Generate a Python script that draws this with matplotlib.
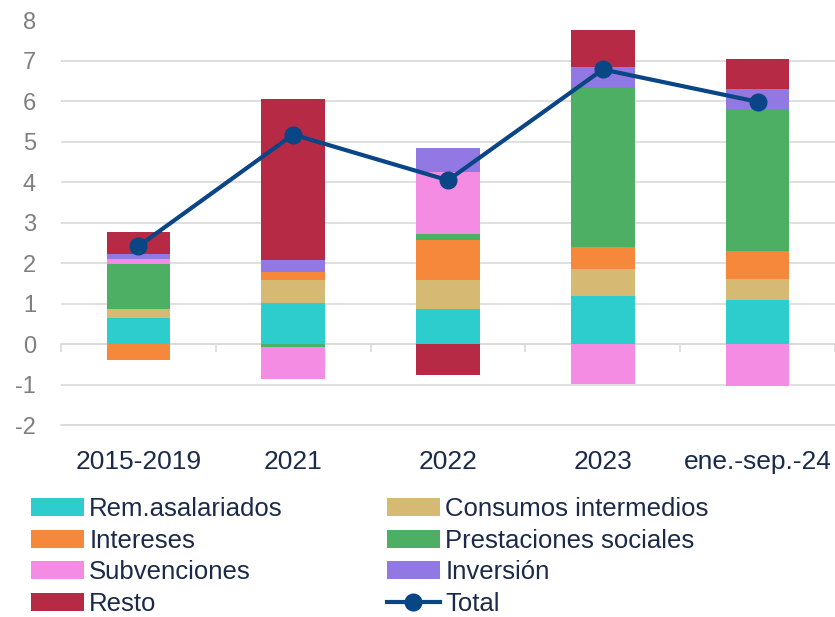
import matplotlib
matplotlib.use("Agg")
import matplotlib.pyplot as plt
import numpy as np

categories = ["2015-2019", "2021", "2022", "2023", "ene.-sep.-24"]
rem = [0.64, 1.02, 0.87, 1.19, 1.09]
consumos = [0.23, 0.56, 0.71, 0.66, 0.52]
intereses = [-0.40, 0.20, 0.99, 0.56, 0.68]
prestaciones = [1.12, -0.08, 0.16, 3.94, 3.51]
subvenciones = [0.12, -0.78, 1.52, -0.99, -1.04]
inversion = [0.11, 0.29, 0.60, 0.51, 0.50]
resto = [0.55, 3.98, -0.77, 0.90, 0.74]
total = [2.42, 5.18, 4.05, 6.79, 5.99]
yticks = [-2, -1, 0, 1, 2, 3, 4, 5, 6, 7, 8]

series = [
    ("Rem.asalariados", rem, "#2ECDCD"),
    ("Consumos intermedios", consumos, "#D6BA74"),
    ("Intereses", intereses, "#F5883A"),
    ("Prestaciones sociales", prestaciones, "#4CAF63"),
    ("Subvenciones", subvenciones, "#F48CE4"),
    ("Inversión", inversion, "#9178E2"),
    ("Resto", resto, "#B72A45"),
]

plt.rcParams['font.family'] = ['Liberation Sans', 'DejaVu Sans']

fig = plt.figure(figsize=(8.35, 6.17), dpi=100)
ax = fig.add_axes([61 / 835, 192 / 617, 774 / 835, 404.5 / 617])

x = np.arange(len(categories))
pos_base = np.zeros(len(categories))
neg_base = np.zeros(len(categories))
handles = {}
for name, vals, col in series:
    v = np.array(vals)
    bottoms = np.where(v >= 0, pos_base, neg_base)
    b = ax.bar(x, v, width=0.41, bottom=bottoms, color=col, label=name, zorder=2)
    handles[name] = b
    pos_base = pos_base + np.where(v >= 0, v, 0)
    neg_base = neg_base + np.where(v < 0, v, 0)

line, = ax.plot(x, total, color="#0A4585", lw=3.0, marker="o", markersize=12,
                zorder=3, label="Total")

ax.set_xlim(-0.5, 4.5)
ax.set_ylim(-2, 8)
ax.set_yticks(yticks)
ax.set_yticklabels([str(t) for t in yticks])
ax.grid(axis="y", color="#D9D9D9", lw=1.2)
ax.set_axisbelow(True)
for s in ["top", "right", "left"]:
    ax.spines[s].set_visible(False)
ax.spines["bottom"].set_color("#D9D9D9")
ax.spines["bottom"].set_linewidth(1.2)
ax.set_xticks(x)
ax.set_xticklabels(categories)
ax.tick_params(axis="x", length=0, pad=18, labelsize=19, labelcolor="#1B2A4A")
ax.tick_params(axis="y", length=0, pad=18, labelsize=17, labelcolor="#7F7F7F")

# zero line with boundary ticks
sec = ax.secondary_xaxis(0.2)
sec.set_xticks(np.arange(-0.5, 5.0, 1.0))
sec.tick_params(direction="out", length=6, color="#D9D9D9", width=1.2, labelbottom=False)
sec.spines["bottom"].set_color("#D9D9D9")
sec.spines["bottom"].set_linewidth(1.2)

kw = dict(frameon=False, fontsize=18.5, handlelength=2.05, handletextpad=0.22,
          labelspacing=0.30, borderpad=0, borderaxespad=0, labelcolor="#1B2A4A",
          loc="upper left")
left_names = ["Rem.asalariados", "Intereses", "Subvenciones", "Resto"]
right_names = ["Consumos intermedios", "Prestaciones sociales", "Inversión"]
leg1 = fig.legend([handles[n] for n in left_names], left_names,
                  bbox_to_anchor=(31 / 835, 1 - 497 / 617), **kw)
leg2 = fig.legend([handles[n] for n in right_names] + [line], right_names + ["Total"],
                  bbox_to_anchor=(387 / 835, 1 - 497 / 617), **kw)

fig.savefig("out.png", dpi=100)
